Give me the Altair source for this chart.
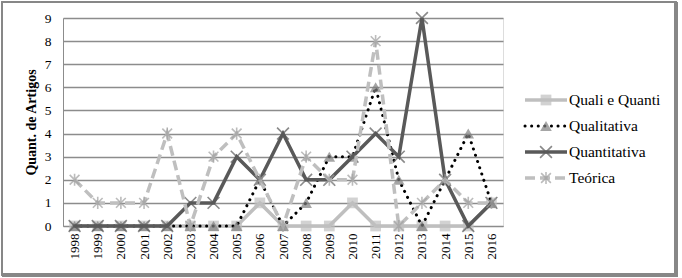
import altair as alt
import pandas as pd

anos = [str(a) for a in range(1998, 2017)]
series = ["Quali e Quanti", "Qualitativa", "Quantitativa", "Teórica"]
quali_quanti = [0, 0, 0, 0, 0, 0, 0, 0, 1, 0, 0, 0, 1, 0, 0, 0, 0, 0, 1]
qualitativa = [0, 0, 0, 0, 0, 0, 0, 0, 2, 0, 1, 3, 3, 6, 2, 0, 2, 4, 1]
quantitativa = [0, 0, 0, 0, 0, 1, 1, 3, 2, 4, 2, 2, 3, 4, 3, 9, 2, 0, 1]
teorica = [2, 1, 1, 1, 4, 0, 3, 4, 2, 0, 3, 2, 2, 8, 0, 1, 2, 1, 1]
y_max = 9

valores = [quali_quanti, qualitativa, quantitativa, teorica]
rows = []
for s, vals in zip(series, valores):
    for a, v in zip(anos, vals):
        rows.append({"ano": a, "serie": s, "valor": v})
df = pd.DataFrame(rows)
leg_df = pd.DataFrame({"serie": series})

FONT = "Liberation Serif"
GRID = "#8c8c8c"

X_PATH = "M-1,-1L1,1M-1,1L1,-1"
AST_PATH = "M-1,-1L1,1M-1,1L1,-1M0,-1.25L0,1.25"

styles = {
    "Quali e Quanti": dict(line=dict(color="#bfbfbf", strokeWidth=3.5),
                           pt=dict(shape="square", size=115, filled=True, color="#bfbfbf", strokeWidth=0)),
    "Qualitativa": dict(line=dict(color="#000000", strokeWidth=3, strokeDash=[0.1, 6.5], strokeCap="round"),
                        pt=dict(shape="triangle-up", size=135, filled=True, color="#7f7f7f", strokeWidth=0)),
    "Quantitativa": dict(line=dict(color="#595959", strokeWidth=3.5),
                         pt=dict(shape=X_PATH, size=140, filled=False, color="#595959", strokeWidth=1.6)),
    "Teórica": dict(line=dict(color="#bfbfbf", strokeWidth=3.5, strokeDash=[10, 5]),
                    pt=dict(shape=AST_PATH, size=95, filled=False, color="#a0a0a0", strokeWidth=1.6)),
}

x_enc = alt.X("ano:O", sort=anos, scale=alt.Scale(type="point", padding=0.5), title=None)
y_enc = alt.Y("valor:Q", scale=alt.Scale(domain=[0, y_max], nice=False), title="Quant. de Artigos")

base = alt.Chart(df)
main_layers = []
for s in series:
    st = styles[s]
    sub = base.transform_filter(alt.datum.serie == s)
    main_layers.append(sub.mark_line(**st["line"]).encode(x=x_enc, y=y_enc))
    main_layers.append(sub.mark_point(**st["pt"]).encode(x=x_enc, y=y_enc))
main = alt.layer(*main_layers)

leg_y = alt.Y("serie:N", sort=series, scale=alt.Scale(type="point", range=[82, 160], padding=0), axis=None)
lbase = alt.Chart(leg_df)
leg_layers = []
for s in series:
    st = styles[s]
    sub = lbase.transform_filter(alt.datum.serie == s)
    leg_layers.append(sub.mark_rule(**st["line"]).encode(x=alt.value(462), x2=alt.value(504), y=leg_y))
    leg_layers.append(sub.mark_point(**st["pt"]).encode(x=alt.value(483), y=leg_y))
leg_layers.append(lbase.mark_text(align="left", baseline="middle", font=FONT, fontSize=15.5,
                                  color="#000000").encode(x=alt.value(506), y=leg_y, text="serie:N"))
legend = alt.layer(*leg_layers)

frame = alt.Chart(leg_df).mark_rect(fill=None, stroke="#878787", strokeWidth=1.5).encode(
    x=alt.value(-61), x2=alt.value(613), y=alt.value(-16), y2=alt.value(257))
frame_b = alt.Chart(leg_df).mark_rule(color="#878787", strokeWidth=4).encode(
    x=alt.value(-61), x2=alt.value(615), y=alt.value(257))
frame_r = alt.Chart(leg_df).mark_rule(color="#878787", strokeWidth=4).encode(
    x=alt.value(613), y=alt.value(-16), y2=alt.value(259))

chart = alt.layer(main, legend, frame, frame_b, frame_r).resolve_scale(
    y="independent", x="independent"
).properties(width=440, height=208, padding=0, background="#ffffff").configure_view(
    stroke=None
).configure(
    font=FONT,
    style={"guide-label": {"font": FONT, "fontSize": 13, "fill": "#000000"},
           "guide-title": {"font": FONT}},
).configure_axis(
    labelFont=FONT, titleFont=FONT, labelColor="#000000", titleColor="#000000",
    ticks=False, domainColor=GRID, domainWidth=1, labelOverlap=False
).configure_axisX(
    labelAngle=-90, labelFontSize=13, labelPadding=7, grid=False
).configure_axisY(
    tickCount=9, labelFontSize=13.5, labelPadding=12, titleFontSize=14, titleFontWeight="bold",
    titlePadding=6, grid=True, gridColor=GRID, gridWidth=1.3
).configure_text(font=FONT)

chart.save("out.html", embed_options={"renderer": "svg", "actions": False})
